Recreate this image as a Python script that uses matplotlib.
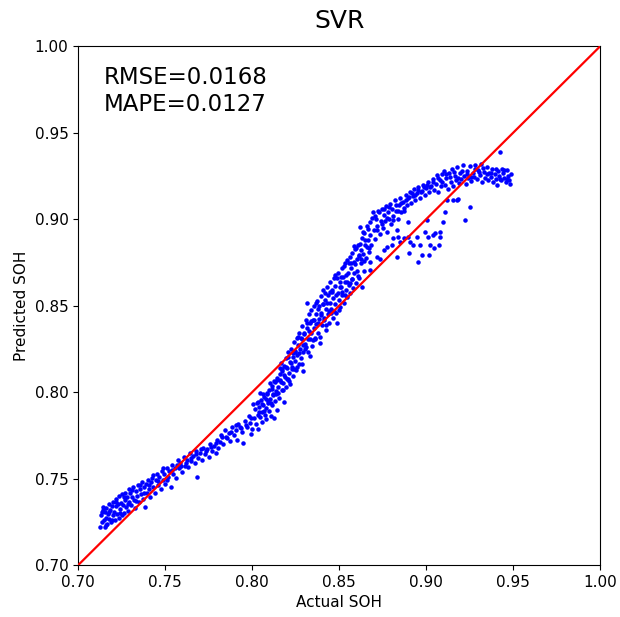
import numpy as np
import matplotlib
matplotlib.use("Agg")
import matplotlib.pyplot as plt

title = "SVR"
rmse = 0.0168
mape = 0.0127

# (actual SOH, predicted SOH), split by region
low_points = [
    (0.7128, 0.7222), (0.7131, 0.7290), (0.7135, 0.7305), (0.7140, 0.7248), (0.7143, 0.7318),
    (0.7147, 0.7262), (0.7152, 0.7220), (0.7155, 0.7308), (0.7160, 0.7275), (0.7163, 0.7330),
    (0.7168, 0.7238), (0.7172, 0.7296), (0.7176, 0.7355), (0.7180, 0.7268), (0.7185, 0.7320),
    (0.7189, 0.7250), (0.7193, 0.7342), (0.7198, 0.7290), (0.7203, 0.7368), (0.7207, 0.7305),
    (0.7211, 0.7262), (0.7215, 0.7340), (0.7220, 0.7385), (0.7224, 0.7296), (0.7228, 0.7352),
    (0.7233, 0.7275), (0.7237, 0.7398), (0.7241, 0.7325), (0.7246, 0.7360), (0.7250, 0.7290),
    (0.7255, 0.7410), (0.7259, 0.7345), (0.7263, 0.7300), (0.7268, 0.7378), (0.7272, 0.7420),
    (0.7277, 0.7338), (0.7281, 0.7395), (0.7286, 0.7312), (0.7290, 0.7440), (0.7295, 0.7368),
    (0.7300, 0.7420), (0.7305, 0.7350), (0.7310, 0.7395), (0.7315, 0.7452), (0.7320, 0.7378),
    (0.7326, 0.7330), (0.7331, 0.7428), (0.7337, 0.7400), (0.7342, 0.7465), (0.7348, 0.7365),
    (0.7354, 0.7440), (0.7360, 0.7410), (0.7366, 0.7480), (0.7372, 0.7385), (0.7378, 0.7452),
    (0.7384, 0.7337), (0.7390, 0.7470), (0.7396, 0.7420), (0.7402, 0.7495), (0.7408, 0.7440),
    (0.7414, 0.7395), (0.7420, 0.7478), (0.7427, 0.7505), (0.7433, 0.7450), (0.7440, 0.7418),
    (0.7447, 0.7490), (0.7454, 0.7530), (0.7460, 0.7462), (0.7467, 0.7510), (0.7474, 0.7440),
    (0.7481, 0.7545), (0.7488, 0.7495), (0.7495, 0.7525), (0.7502, 0.7470), (0.7510, 0.7560),
    (0.7517, 0.7512), (0.7525, 0.7545), (0.7532, 0.7453), (0.7540, 0.7580), (0.7548, 0.7530),
    (0.7556, 0.7562), (0.7564, 0.7505), (0.7572, 0.7607), (0.7580, 0.7560), (0.7588, 0.7590),
    (0.7597, 0.7538), (0.7606, 0.7625), (0.7615, 0.7575), (0.7624, 0.7610), (0.7633, 0.7565),
    (0.7642, 0.7646), (0.7651, 0.7600), (0.7660, 0.7630), (0.7670, 0.7590), (0.7680, 0.7662),
    (0.7682, 0.7510), (0.7690, 0.7620), (0.7700, 0.7650), (0.7710, 0.7608), (0.7720, 0.7680),
    (0.7730, 0.7640), (0.7740, 0.7672), (0.7750, 0.7625), (0.7760, 0.7700), (0.7770, 0.7660),
    (0.7780, 0.7690), (0.7790, 0.7650), (0.7797, 0.7723), (0.7805, 0.7680), (0.7815, 0.7712),
    (0.7825, 0.7742), (0.7835, 0.7700), (0.7845, 0.7780), (0.7855, 0.7735), (0.7865, 0.7765),
    (0.7875, 0.7720), (0.7885, 0.7798), (0.7895, 0.7752), (0.7905, 0.7782), (0.7912, 0.7723),
    (0.7920, 0.7815), (0.7931, 0.7800), (0.7940, 0.7770), (0.7950, 0.7705), (0.7960, 0.7835),
    (0.7970, 0.7800), (0.7980, 0.7860), (0.7990, 0.7822), (0.7995, 0.7760), (0.8000, 0.7790),
]

low_extra = [
    (0.7145, 0.7335), (0.7158, 0.7232), (0.7178, 0.7310), (0.7196, 0.7262), (0.7218, 0.7365),
    (0.7239, 0.7300), (0.7262, 0.7392), (0.7284, 0.7355), (0.7309, 0.7432), (0.7333, 0.7372),
    (0.7358, 0.7466), (0.7381, 0.7420), (0.7405, 0.7461), (0.7432, 0.7520), (0.7458, 0.7485),
    (0.7485, 0.7560), (0.7512, 0.7495), (0.7538, 0.7548), (0.7566, 0.7582), (0.7593, 0.7572),
    (0.7621, 0.7592), (0.7648, 0.7618), (0.7676, 0.7645), (0.7705, 0.7672), (0.7733, 0.7658),
    (0.7762, 0.7682), (0.7791, 0.7705), (0.7819, 0.7752), (0.7848, 0.7742), (0.7877, 0.7772),
    (0.7906, 0.7808), (0.7935, 0.7792), (0.7963, 0.7812), (0.7992, 0.7850),
]

mid_points = [
    (0.8005, 0.7930), (0.8010, 0.7850), (0.8016, 0.7905), (0.8021, 0.7815), (0.8027, 0.7936),
    (0.8031, 0.7870), (0.8036, 0.7790), (0.8040, 0.7912), (0.8045, 0.7855), (0.8050, 0.7955),
    (0.8054, 0.7885), (0.8059, 0.7830), (0.8063, 0.7925), (0.8068, 0.7972), (0.8072, 0.7868),
    (0.8077, 0.7910), (0.8081, 0.7845), (0.8086, 0.7990), (0.8090, 0.7940), (0.8095, 0.7892),
    (0.8099, 0.8010), (0.8104, 0.7962), (0.8108, 0.7860), (0.8112, 0.7925), (0.8117, 0.8035),
    (0.8121, 0.7985), (0.8125, 0.7850), (0.8129, 0.7950), (0.8133, 0.8060), (0.8137, 0.8005),
    (0.8141, 0.7900), (0.8145, 0.8080), (0.8149, 0.8030), (0.8153, 0.7965), (0.8158, 0.8105),
    (0.8161, 0.8070), (0.8165, 0.8167), (0.8169, 0.8010), (0.8173, 0.8120), (0.8177, 0.8055),
    (0.8181, 0.7945), (0.8185, 0.8150), (0.8189, 0.8090), (0.8193, 0.8200), (0.8197, 0.8030),
    (0.8200, 0.8140), (0.8204, 0.8075), (0.8208, 0.8230), (0.8212, 0.8110), (0.8216, 0.8175),
    (0.8220, 0.8050), (0.8224, 0.8250), (0.8228, 0.8145), (0.8232, 0.8205), (0.8236, 0.8095),
    (0.8240, 0.8290), (0.8244, 0.8180), (0.8248, 0.8240), (0.8252, 0.8130), (0.8256, 0.8315),
    (0.8260, 0.8215), (0.8264, 0.8275), (0.8268, 0.8165), (0.8272, 0.8340), (0.8276, 0.8250),
    (0.8280, 0.8195), (0.8284, 0.8310), (0.8288, 0.8380), (0.8292, 0.8230), (0.8295, 0.8120),
    (0.8299, 0.8345), (0.8303, 0.8280), (0.8307, 0.8420), (0.8311, 0.8260), (0.8314, 0.8514),
    (0.8318, 0.8370), (0.8322, 0.8305), (0.8326, 0.8450), (0.8330, 0.8210), (0.8333, 0.8400),
    (0.8337, 0.8340), (0.8341, 0.8475), (0.8345, 0.8265), (0.8349, 0.8420), (0.8353, 0.8370),
    (0.8357, 0.8500), (0.8361, 0.8310), (0.8365, 0.8450), (0.8369, 0.8395), (0.8373, 0.8530),
    (0.8377, 0.8345), (0.8381, 0.8480), (0.8385, 0.8425), (0.8390, 0.8283), (0.8394, 0.8555),
    (0.8398, 0.8460), (0.8402, 0.8390), (0.8406, 0.8510), (0.8410, 0.8590), (0.8414, 0.8430),
    (0.8418, 0.8535), (0.8422, 0.8360), (0.8426, 0.8480), (0.8430, 0.8610), (0.8434, 0.8455),
    (0.8438, 0.8560), (0.8442, 0.8400), (0.8446, 0.8515), (0.8450, 0.8640), (0.8454, 0.8480),
    (0.8458, 0.8590), (0.8462, 0.8430), (0.8466, 0.8545), (0.8470, 0.8660), (0.8474, 0.8510),
    (0.8478, 0.8615), (0.8482, 0.8460), (0.8487, 0.8398), (0.8491, 0.8575), (0.8495, 0.8690),
    (0.8499, 0.8535), (0.8503, 0.8640), (0.8507, 0.8490), (0.8511, 0.8610), (0.8515, 0.8720),
    (0.8519, 0.8560), (0.8523, 0.8665), (0.8527, 0.8515), (0.8531, 0.8640), (0.8535, 0.8745),
    (0.8539, 0.8590), (0.8544, 0.8763), (0.8548, 0.8550), (0.8552, 0.8690), (0.8556, 0.8620),
    (0.8560, 0.8780), (0.8564, 0.8575), (0.8568, 0.8720), (0.8572, 0.8655), (0.8576, 0.8805),
    (0.8580, 0.8600), (0.8584, 0.8750), (0.8588, 0.8690), (0.8592, 0.8830), (0.8596, 0.8630),
    (0.8600, 0.8770),
]

mid_extra = [
    (0.8033, 0.7941), (0.8041, 0.7885), (0.8047, 0.7995), (0.8056, 0.7934), (0.8062, 0.7989),
    (0.8071, 0.7892), (0.8078, 0.7962), (0.8084, 0.7996), (0.8093, 0.7948), (0.8101, 0.8051),
    (0.8106, 0.7937), (0.8115, 0.8020), (0.8122, 0.7992), (0.8127, 0.8062), (0.8136, 0.7989),
    (0.8143, 0.8069), (0.8149, 0.7995), (0.8158, 0.8142), (0.8164, 0.8061), (0.8171, 0.8133),
    (0.8179, 0.8010), (0.8186, 0.8100), (0.8192, 0.8145), (0.8199, 0.8078), (0.8207, 0.8206),
    (0.8213, 0.8066), (0.8221, 0.8169), (0.8229, 0.8136), (0.8234, 0.8224), (0.8242, 0.8132),
    (0.8249, 0.8231), (0.8257, 0.8147), (0.8263, 0.8322), (0.8271, 0.8227), (0.8278, 0.8316),
    (0.8285, 0.8164), (0.8291, 0.8274), (0.8298, 0.8335), (0.8306, 0.8252), (0.8313, 0.8401),
    (0.8319, 0.8230), (0.8327, 0.8351), (0.8334, 0.8308), (0.8340, 0.8414), (0.8348, 0.8301),
    (0.8355, 0.8417), (0.8362, 0.8311), (0.8368, 0.8516), (0.8376, 0.8399), (0.8383, 0.8501),
    (0.8391, 0.8319), (0.8397, 0.8445), (0.8405, 0.8509), (0.8412, 0.8415), (0.8419, 0.8574),
    (0.8425, 0.8388), (0.8433, 0.8516), (0.8440, 0.8467), (0.8446, 0.8579), (0.8455, 0.8456),
    (0.8461, 0.8577), (0.8468, 0.8471), (0.8476, 0.8679), (0.8483, 0.8560), (0.8489, 0.8660),
    (0.8497, 0.8478), (0.8504, 0.8606), (0.8511, 0.8666), (0.8517, 0.8579), (0.8526, 0.8732),
    (0.8532, 0.8561), (0.8539, 0.8680), (0.8547, 0.8639), (0.8554, 0.8746), (0.8561, 0.8632),
    (0.8569, 0.8748), (0.8576, 0.8653), (0.8584, 0.8847), (0.8591, 0.8740), (0.8598, 0.8836),
    (0.8606, 0.8673), (0.8613, 0.8793), (0.8621, 0.8856), (0.8628, 0.8772), (0.8636, 0.8925),
    (0.8643, 0.8757), (0.8651, 0.8880), (0.8659, 0.8839), (0.8666, 0.8946), (0.8674, 0.8832),
]

upper_points = [
    (0.8604, 0.8700), (0.8608, 0.8850), (0.8612, 0.8790), (0.8616, 0.8660), (0.8620, 0.8956),
    (0.8624, 0.8820), (0.8628, 0.8745), (0.8632, 0.8890), (0.8636, 0.8800), (0.8640, 0.8700),
    (0.8645, 0.8920), (0.8650, 0.8850), (0.8655, 0.8775), (0.8660, 0.8960), (0.8665, 0.8880),
    (0.8670, 0.8810), (0.8675, 0.8985), (0.8680, 0.8910), (0.8685, 0.8850), (0.8690, 0.9010),
    (0.8697, 0.9043), (0.8702, 0.8940), (0.8708, 0.8885), (0.8714, 0.9000), (0.8720, 0.8960),
    (0.8726, 0.9050), (0.8732, 0.8915), (0.8738, 0.8990), (0.8744, 0.9060), (0.8750, 0.8950),
    (0.8756, 0.9025), (0.8762, 0.8990), (0.8768, 0.9075), (0.8774, 0.8927), (0.8780, 0.9040),
    (0.8786, 0.9000), (0.8792, 0.9090), (0.8798, 0.8970), (0.8805, 0.9060), (0.8812, 0.9020),
    (0.8820, 0.9110), (0.8828, 0.9045), (0.8836, 0.9000), (0.8844, 0.9085), (0.8851, 0.9120),
    (0.8858, 0.9040), (0.8866, 0.9100), (0.8874, 0.9065), (0.8882, 0.9140), (0.8890, 0.9080),
    (0.8898, 0.9120), (0.8906, 0.9160), (0.8914, 0.9095), (0.8922, 0.9135), (0.8930, 0.9175),
    (0.8938, 0.9110), (0.8947, 0.9150), (0.8956, 0.9185), (0.8965, 0.9125), (0.8974, 0.9165),
    (0.8983, 0.9200), (0.8992, 0.9140), (0.9001, 0.9180), (0.9010, 0.9215), (0.9019, 0.9155),
    (0.9028, 0.9195), (0.9037, 0.9230), (0.9046, 0.9170),
    (0.8705, 0.9020), (0.8717, 0.8935), (0.8731, 0.9040), (0.8747, 0.8975), (0.8759, 0.9062),
    (0.8777, 0.9010), (0.8789, 0.9070), (0.8808, 0.8995), (0.8824, 0.9085), (0.8840, 0.9050),
    (0.8855, 0.9095), (0.8870, 0.9045), (0.8886, 0.9110), (0.8902, 0.9130), (0.8918, 0.9150),
    (0.8934, 0.9140), (0.8951, 0.9170), (0.8968, 0.9160), (0.8987, 0.9185), (0.9005, 0.9200),
    (0.9023, 0.9185), (0.9041, 0.9215),
]

top_points = [
    (0.9055, 0.9205), (0.9062, 0.9254), (0.9070, 0.9160), (0.9078, 0.9225), (0.9085, 0.9190),
    (0.9093, 0.9260), (0.9100, 0.9280), (0.9108, 0.9200), (0.9116, 0.9240), (0.9124, 0.9175),
    (0.9132, 0.9265), (0.9140, 0.9215), (0.9148, 0.9290), (0.9156, 0.9195), (0.9164, 0.9250),
    (0.9172, 0.9225), (0.9180, 0.9300), (0.9188, 0.9210), (0.9195, 0.9265), (0.9203, 0.9235),
    (0.9211, 0.9312), (0.9219, 0.9250), (0.9227, 0.9205), (0.9235, 0.9280), (0.9243, 0.9240),
    (0.9251, 0.9305), (0.9259, 0.9220), (0.9267, 0.9270), (0.9275, 0.9245), (0.9283, 0.9315),
    (0.9291, 0.9230), (0.9299, 0.9285), (0.9307, 0.9255), (0.9315, 0.9320), (0.9323, 0.9215),
    (0.9331, 0.9275), (0.9339, 0.9240), (0.9347, 0.9300), (0.9355, 0.9225), (0.9363, 0.9270),
    (0.9371, 0.9245), (0.9379, 0.9290), (0.9387, 0.9215), (0.9395, 0.9260), (0.9403, 0.9235),
    (0.9406, 0.9197), (0.9413, 0.9280), (0.9420, 0.9250), (0.9425, 0.9387), (0.9430, 0.9225),
    (0.9435, 0.9293), (0.9442, 0.9265), (0.9450, 0.9240), (0.9458, 0.9215), (0.9464, 0.9283),
    (0.9471, 0.9250), (0.9477, 0.9226), (0.9483, 0.9206), (0.9488, 0.9262),
    (0.9068, 0.9238), (0.9089, 0.9215), (0.9112, 0.9262), (0.9136, 0.9245), (0.9160, 0.9275),
    (0.9184, 0.9240), (0.9208, 0.9280), (0.9232, 0.9260), (0.9255, 0.9245), (0.9279, 0.9290),
    (0.9303, 0.9275), (0.9327, 0.9295), (0.9351, 0.9260), (0.9375, 0.9270), (0.9399, 0.9290),
    (0.9423, 0.9230), (0.9447, 0.9285), (0.9467, 0.9235),
]

# points that fall under the diagonal around 0.87-0.93
branch_points = [
    (0.8630, 0.8610), (0.8678, 0.8705), (0.8680, 0.8753), (0.8717, 0.8782), (0.8736, 0.8773),
    (0.8755, 0.8821), (0.8774, 0.8840), (0.8802, 0.8850), (0.8812, 0.8889), (0.8832, 0.8782),
    (0.8834, 0.8936), (0.8841, 0.8898), (0.8851, 0.8869), (0.8870, 0.8889), (0.8898, 0.8898),
    (0.8900, 0.8802), (0.8896, 0.8985), (0.8908, 0.8869), (0.8927, 0.8850), (0.8947, 0.8898),
    (0.8956, 0.8753), (0.8966, 0.8850), (0.8975, 0.8792), (0.8994, 0.8927), (0.9003, 0.8994),
    (0.9013, 0.8898), (0.9015, 0.8792), (0.9023, 0.8850), (0.9042, 0.8908), (0.9044, 0.8831),
    (0.9052, 0.8918), (0.9071, 0.8850), (0.9080, 0.8927), (0.9082, 0.8898), (0.9099, 0.8985),
    (0.9109, 0.9043), (0.9119, 0.9110), (0.9155, 0.9110), (0.9176, 0.9110), (0.9184, 0.9116),
    (0.9224, 0.8994), (0.9253, 0.9071),
]

all_points = (low_points + low_extra + mid_points + mid_extra + upper_points
              + top_points + branch_points)
actual, predicted = map(np.array, zip(*all_points))

fig = plt.figure(figsize=(6.2, 6.17), dpi=100)
ax = fig.add_axes([0.126, 0.084, 0.842, 0.841])

ax.scatter(actual, predicted, s=5, color="blue", zorder=2)
ax.plot([0.7, 1.0], [0.7, 1.0], color="red", linewidth=1.6, zorder=3)

ax.set_xlim(0.7, 1.0)
ax.set_ylim(0.7, 1.0)
ticks = [0.70, 0.75, 0.80, 0.85, 0.90, 0.95, 1.00]
ax.set_xticks(ticks)
ax.set_yticks(ticks)
ax.tick_params(labelsize=11)

ax.set_title(title, fontsize=18, pad=13)
ax.set_xlabel("Actual SOH", fontsize=11)
ax.set_ylabel("Predicted SOH", fontsize=11)
ax.text(0.05, 0.962, "RMSE={:.4f}\nMAPE={:.4f}".format(rmse, mape),
        transform=ax.transAxes, fontsize=16.5, va="top", ha="left", linespacing=1.2)

fig.savefig("out.png", dpi=100)
